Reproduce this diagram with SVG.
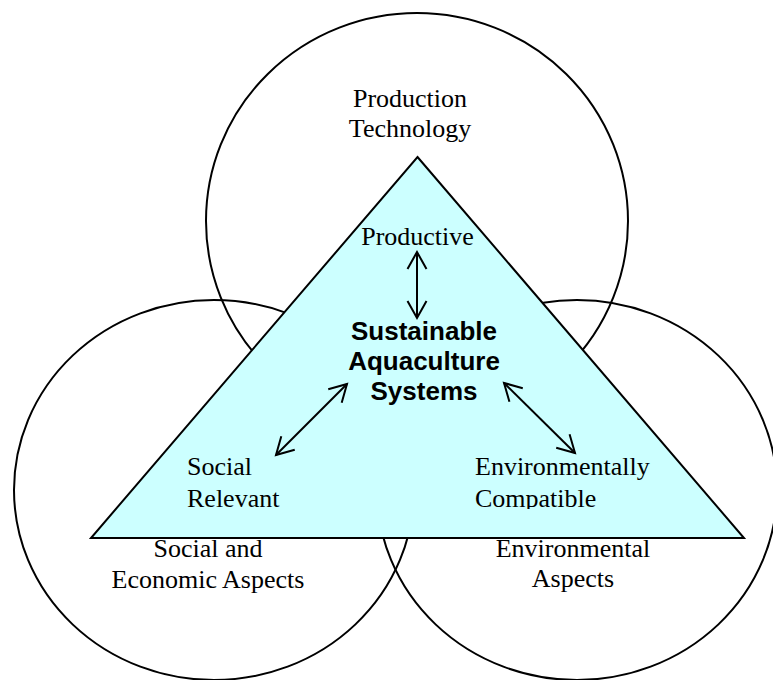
<svg xmlns="http://www.w3.org/2000/svg" width="773" height="680" viewBox="0 0 773 680">
<style>
.c{fill:none;stroke:#000;stroke-width:2}
.t{font-family:"Liberation Serif","Times New Roman",serif;font-size:26px;fill:#000}
.b{font-family:"Liberation Sans",Arial,sans-serif;font-size:26px;font-weight:bold;fill:#000}
.a{fill:none;stroke:#000;stroke-width:2}
</style>
<defs>
<marker id="ah" markerUnits="userSpaceOnUse" viewBox="-20 -12 24 24" markerWidth="24" markerHeight="24" refX="0" refY="0" orient="auto-start-reverse" overflow="visible">
<path d="M-17,-9.5 L0,0 L-17,9.5" fill="none" stroke="#000" stroke-width="2"/>
</marker>
<clipPath id="clipC"><rect x="0" y="0" width="773" height="509"/></clipPath>
</defs>
<rect width="773" height="680" fill="#fff"/>
<g id="circle-production">
<ellipse class="c" cx="417" cy="221" rx="211" ry="208"/>
<text class="t" x="410" y="107" text-anchor="middle">Production</text>
<text class="t" x="410" y="137" text-anchor="middle">Technology</text>
</g>
<g id="circle-social">
<ellipse class="c" cx="214" cy="490" rx="200" ry="190"/>
</g>
<g id="circle-environmental">
<ellipse class="c" cx="577" cy="490" rx="200" ry="190"/>
</g>
<g id="triangle">
<polygon points="417.5,157 744,538 91,538" fill="#CCFFFF" stroke="#000" stroke-width="2"/>
</g>
<g id="label-social-aspects">
<text class="t" x="208" y="557" text-anchor="middle">Social and</text>
<text class="t" x="208" y="588" text-anchor="middle">Economic Aspects</text>
</g>
<g id="label-environmental-aspects">
<text class="t" x="573" y="557" text-anchor="middle">Environmental</text>
<text class="t" x="573" y="587" text-anchor="middle">Aspects</text>
</g>
<g id="node-productive">
<text class="t" x="417.5" y="245" text-anchor="middle">Productive</text>
</g>
<g id="node-center">
<text class="b" x="424" y="340" text-anchor="middle">Sustainable</text>
<text class="b" x="424" y="370" text-anchor="middle">Aquaculture</text>
<text class="b" x="424" y="400" text-anchor="middle">Systems</text>
</g>
<g id="node-social">
<text class="t" x="187" y="475">Social</text>
<text class="t" x="187" y="507">Relevant</text>
</g>
<g id="node-environmental">
<text class="t" x="475" y="475">Environmentally</text>
<text class="t" x="475" y="507" clip-path="url(#clipC)">Compatible</text>
</g>
<g id="connectors">
<line class="a" x1="417" y1="252" x2="417" y2="318" marker-start="url(#ah)" marker-end="url(#ah)"/>
<line class="a" x1="347" y1="384" x2="276" y2="455" marker-start="url(#ah)" marker-end="url(#ah)"/>
<line class="a" x1="504" y1="383" x2="575" y2="453" marker-start="url(#ah)" marker-end="url(#ah)"/>
</g>
</svg>
